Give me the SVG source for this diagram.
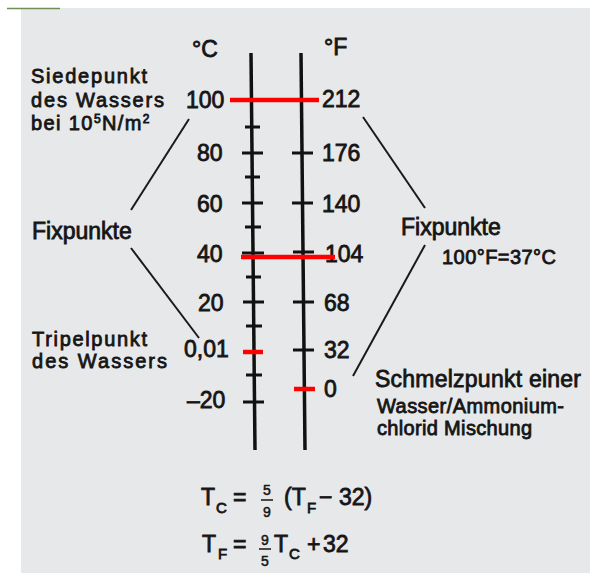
<svg xmlns="http://www.w3.org/2000/svg" width="590" height="573" viewBox="0 0 590 573">
<style>
text{font-family:"Liberation Sans",Arial,Helvetica,sans-serif;fill:#151515;stroke:#151515;stroke-width:0.8}
.lbl{font-size:23px}
.st{font-size:20px}
.num{font-size:23px}
.sm{font-size:20px}
.sub{font-size:15px}
.sup{font-size:12px}
.fr{font-size:14px;text-anchor:middle;stroke-width:0.5}
.axis{stroke:#111;stroke-width:3.5;fill:none}
.tick{stroke:#111;stroke-width:3}
.red{stroke:#ff0000;stroke-width:4.5}
.conn{stroke:#1a1a1a;stroke-width:2;fill:none}
.bar{stroke:#151515;stroke-width:1.5}
</style>
<rect x="0" y="0" width="590" height="573" fill="#ffffff"/>
<rect x="21" y="8" width="569" height="565" fill="#e7e8ea"/>
<line x1="7" y1="8.5" x2="60" y2="8.5" stroke="#6f8f55" stroke-width="1.5"/>

<g id="scale-celsius">
<text class="num" x="192" y="57" font-size="24">°C</text>
<line class="axis" x1="251" y1="53" x2="255" y2="450"/>
<line class="tick" x1="245" y1="127" x2="260" y2="127"/>
<line class="tick" x1="242" y1="153" x2="263" y2="153"/>
<line class="tick" x1="245" y1="177" x2="260" y2="177"/>
<line class="tick" x1="242" y1="203" x2="263" y2="203"/>
<line class="tick" x1="245" y1="227" x2="261" y2="227"/>
<line class="tick" x1="242" y1="253" x2="264" y2="253"/>
<line class="tick" x1="246" y1="277" x2="261" y2="277"/>
<line class="tick" x1="243" y1="302" x2="264" y2="302"/>
<line class="tick" x1="246" y1="326" x2="262" y2="326"/>
<line class="tick" x1="246" y1="375" x2="262" y2="375"/>
<line class="tick" x1="243" y1="402" x2="264" y2="402"/>
<line class="red" x1="243" y1="352" x2="263" y2="352"/>
<text class="num" x="186" y="108">100</text>
<text class="num" x="197" y="161">80</text>
<text class="num" x="197" y="212">60</text>
<text class="num" x="197" y="262">40</text>
<text class="num" x="198" y="311">20</text>
<text class="num" x="184" y="357">0,01</text>
<text class="num" x="187" y="408">–20</text>
</g>

<g id="scale-fahrenheit">
<text class="num" x="324" y="55">°F</text>
<line class="axis" x1="301" y1="53" x2="305" y2="450"/>
<line class="tick" x1="292" y1="153" x2="313" y2="153"/>
<line class="tick" x1="292" y1="203" x2="313" y2="203"/>
<line class="tick" x1="293" y1="252" x2="314" y2="252"/>
<line class="tick" x1="293" y1="302" x2="314" y2="302"/>
<line class="tick" x1="293" y1="350" x2="314" y2="350"/>
<line class="red" x1="294" y1="389" x2="315" y2="389"/>
<text class="num" x="322" y="107">212</text>
<text class="num" x="322" y="161">176</text>
<text class="num" x="322" y="212">140</text>
<text class="num" x="325" y="262">104</text>
<text class="num" x="324" y="311">68</text>
<text class="num" x="324" y="358">32</text>
<text class="num" x="324" y="397">0</text>
</g>

<g id="fixpoint-lines">
<line class="red" x1="230" y1="100" x2="319" y2="100"/>
<line class="red" x1="241" y1="257" x2="335" y2="257"/>
</g>

<g id="label-siedepunkt">
<text class="st" x="31" y="83" textLength="116">Siedepunkt</text>
<text class="st" x="31" y="107" textLength="133">des Wassers</text>
<text class="st" x="31" y="130" letter-spacing="1.4">bei 10<tspan class="sup" dy="-7">5</tspan><tspan dy="7">N/m</tspan><tspan class="sup" dy="-7">2</tspan></text>
</g>

<g id="label-fixpunkte-left">
<text class="lbl" x="32" y="239">Fixpunkte</text>
</g>

<g id="label-tripelpunkt">
<text class="st" x="32" y="346" textLength="115">Tripelpunkt</text>
<text class="st" x="32" y="368" textLength="135">des Wassers</text>
</g>

<g id="label-fixpunkte-right">
<text class="lbl" x="401" y="235">Fixpunkte</text>
<text class="sm" x="442" y="264" textLength="114">100°F=37°C</text>
</g>

<g id="label-schmelzpunkt">
<text class="lbl" x="375" y="387" textLength="206">Schmelzpunkt einer</text>
<text class="sm" x="377" y="413" textLength="187">Wasser/Ammonium-</text>
<text class="sm" x="377" y="435" textLength="155">chlorid Mischung</text>
</g>

<g id="connectors">
<line class="conn" x1="189" y1="119" x2="131" y2="210"/>
<line class="conn" x1="131" y1="248" x2="199" y2="338"/>
<line class="conn" x1="363" y1="117" x2="425" y2="208"/>
<line class="conn" x1="425" y1="245" x2="353" y2="376"/>
</g>

<g id="formula-1">
<text class="lbl" x="201" y="505">T</text>
<text class="sub" x="216" y="513">C</text>
<text class="lbl" x="233" y="505">=</text>
<text class="fr" x="267" y="495">5</text>
<line class="bar" x1="261" y1="500" x2="273" y2="500"/>
<text class="fr" x="267" y="517">9</text>
<text class="lbl" x="284" y="505">(T</text>
<text class="sub" x="307" y="513">F</text>
<text class="lbl" x="319" y="505">−</text>
<text class="lbl" x="339" y="505">32)</text>
</g>

<g id="formula-2">
<text class="lbl" x="202" y="552">T</text>
<text class="sub" x="218" y="559">F</text>
<text class="lbl" x="233" y="552">=</text>
<text class="fr" x="265" y="545">9</text>
<line class="bar" x1="259" y1="549" x2="271" y2="549"/>
<text class="fr" x="265" y="566">5</text>
<text class="lbl" x="274" y="552">T</text>
<text class="sub" x="289" y="559">C</text>
<text class="lbl" x="307" y="552">+</text>
<text class="lbl" x="323" y="552" font-size="25">32</text>
</g>
</svg>
